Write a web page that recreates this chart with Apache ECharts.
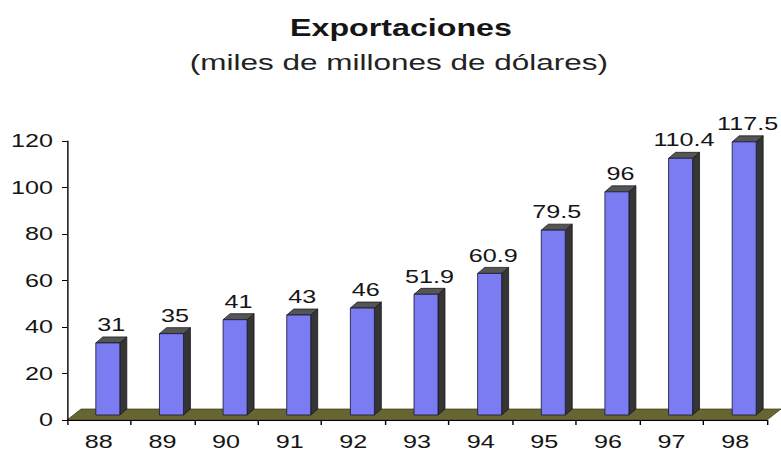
<!DOCTYPE html>
<html>
<head>
<meta charset="utf-8">
<title>Exportaciones</title>
<script src="https://cdn.jsdelivr.net/npm/echarts@6/dist/echarts.min.js"></script>
<style>
  html, body { margin: 0; padding: 0; background: #ffffff; overflow: hidden; }
  /* The chart is laid out in a narrower box and widened horizontally,
     which gives the broad, stretched lettering of the original figure. */
  #chart {
    width: 558px;
    height: 452px;
    transform: scaleX(1.399642);
    transform-origin: 0 0;
  }
</style>
</head>
<body>
<div id="chart"></div>
<script>
// Years (last two digits) and export values, in thousands of millions of dollars
const categories = ['88', '89', '90', '91', '92', '93', '94', '95', '96', '97', '98'];
const exportValues = [31, 35, 41, 43, 46, 51.9, 60.9, 79.5, 96, 110.4, 117.5];

// Value axis range
const yMin = 0;
const yMax = 120;
const yStep = 20;

const S = 781 / 558;            // horizontal stretch applied to the chart box
const px = v => v / S;          // screen pixels -> layout pixels along x

const FONT = '"Liberation Sans", Arial, sans-serif';
const TEXT_COLOR = '#151515';

// Extruded bar: front face, dark side face, grey top face and value label
function renderBar(params, api) {
  const idx = api.value(0);
  const val = api.value(1);
  const base = api.coord([idx, 0]);
  const peak = api.coord([idx, val]);

  const w = px(24);     // front face width
  const dx = px(7);     // depth, horizontal
  const dy = 6;         // depth, vertical
  const left = base[0] - px(3);
  const bottom = base[1] - 5;
  const top = peak[1] - 5;

  return {
    type: 'group',
    children: [
      {
        type: 'polygon',
        shape: { points: [[left + w, top], [left + w + dx, top - dy], [left + w + dx, bottom - dy], [left + w, bottom]] },
        style: { fill: '#353535', stroke: '#111111', lineWidth: 0.6 }
      },
      {
        type: 'polygon',
        shape: { points: [[left, top], [left + dx, top - dy], [left + w + dx, top - dy], [left + w, top]] },
        style: { fill: '#555555', stroke: '#111111', lineWidth: 0.6 }
      },
      {
        type: 'rect',
        shape: { x: left, y: top, width: w, height: bottom - top },
        style: { fill: '#7b7bf2', stroke: '#1c1c3a', lineWidth: 0.7 }
      },
      {
        type: 'text',
        x: left + (w + dx) / 2,
        y: top - dy - 3,
        style: {
          text: String(val),
          fill: TEXT_COLOR,
          font: '18px ' + FONT,
          align: 'center',
          verticalAlign: 'bottom'
        }
      }
    ]
  };
}

// Olive floor slab under the bars, spanning the category axis
function renderFloor(params, api) {
  const cs = params.coordSys;
  const y0 = api.coord([0, 0])[1];
  const x0 = cs.x;
  const x1 = cs.x + cs.width;
  const dx = px(14);
  const dy = 11;
  return {
    type: 'polygon',
    shape: { points: [[x0, y0], [x0 + dx, y0 - dy], [x1 + dx, y0 - dy], [x1, y0]] },
    style: { fill: '#676531', stroke: '#3d3c1c', lineWidth: 0.6 }
  };
}

const chart = echarts.init(document.getElementById('chart'), null, { renderer: 'svg' });

chart.setOption({
  animation: false,
  backgroundColor: '#ffffff',
  title: [
    {
      text: 'Exportaciones',
      left: 281.5,
      top: 12,
      textAlign: 'center',
      textStyle: { fontFamily: FONT, fontWeight: 'bold', fontSize: 23, color: TEXT_COLOR }
    },
    {
      text: '(miles de millones de dólares)',
      left: 280,
      top: 46,
      textAlign: 'center',
      textStyle: { fontFamily: FONT, fontWeight: 'normal', fontSize: 22.5, color: '#222222' }
    }
  ],
  grid: { left: px(67), right: 558 - px(767), top: 141, bottom: 32, containLabel: false },
  xAxis: {
    type: 'category',
    data: categories,
    boundaryGap: true,
    z: 5,
    axisLine: { show: true, lineStyle: { color: '#000000', width: 1 } },
    axisTick: { show: true, alignWithLabel: false, length: 5, lineStyle: { color: '#000000' } },
    axisLabel: { margin: 13, color: TEXT_COLOR, fontFamily: FONT, fontSize: 18 },
    splitLine: { show: false }
  },
  yAxis: {
    type: 'value',
    min: yMin,
    max: yMax,
    interval: yStep,
    z: 5,
    axisLine: { show: true, lineStyle: { color: '#000000', width: 1 } },
    axisTick: { show: true, length: px(5), lineStyle: { color: '#000000' } },
    axisLabel: { margin: px(14), color: TEXT_COLOR, fontFamily: FONT, fontSize: 18 },
    splitLine: { show: false }
  },
  series: [
    {
      type: 'custom',
      name: 'floor',
      z: 1,
      silent: true,
      renderItem: renderFloor,
      data: [[0, 0]]
    },
    {
      type: 'custom',
      name: 'Exportaciones',
      z: 3,
      renderItem: renderBar,
      encode: { x: 0, y: 1 },
      data: categories.map((c, i) => [i, exportValues[i]])
    }
  ]
});
</script>
</body>
</html>
